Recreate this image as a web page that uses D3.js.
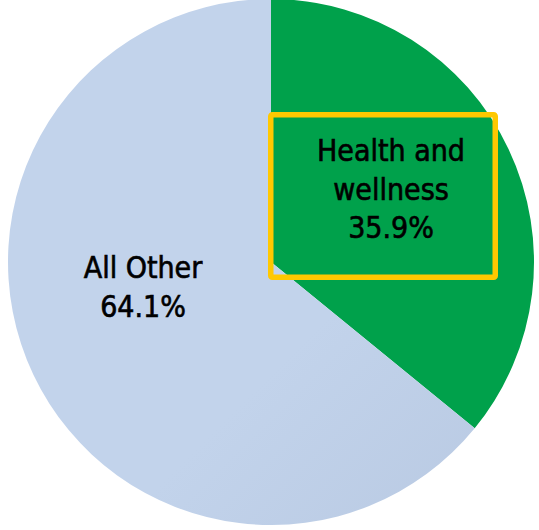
<!DOCTYPE html>
<html>
<head>
<meta charset="utf-8">
<script src="https://cdn.jsdelivr.net/npm/d3@7"></script>
<style>
  html, body { margin: 0; padding: 0; background: #fff; }
  svg { display: block; }
</style>
</head>
<body>
<svg id="chart" width="539" height="530"></svg>
<script>
// Share of total, by category
const categories = ["Health and wellness", "All Other"];
const values = [35.9, 64.1];
const labelLines = [["Health and", "wellness", "35.9%"], ["All Other", "64.1%"]];

const width = 539, height = 530;
const cx = 271, cy = 262, radius = 263;

const svg = d3.select("#chart");

const defs = svg.append("defs");
const grad = defs.append("linearGradient")
  .attr("id", "otherFill")
  .attr("gradientUnits", "userSpaceOnUse")
  .attr("x1", cx - radius * 0.8).attr("y1", cy - radius * 0.8)
  .attr("x2", cx + radius * 0.8).attr("y2", cy + radius * 0.8);
grad.append("stop").attr("offset", "0%").attr("stop-color", "#c2d3eb");
grad.append("stop").attr("offset", "100%").attr("stop-color", "#adbdd7");

const color = d3.scaleOrdinal()
  .domain(categories)
  .range(["#00a14b", "url(#otherFill)"]);

const pie = d3.pie().sort(null).value(d => d.value);
const arc = d3.arc().innerRadius(0).outerRadius(radius);

const data = categories.map((c, i) => ({ name: c, value: values[i], lines: labelLines[i] }));
const arcs = pie(data);

const g = svg.append("g").attr("transform", `translate(${cx},${cy})`);

g.selectAll("path.slice")
  .data(arcs)
  .join("path")
  .attr("class", "slice")
  .attr("d", arc)
  .attr("fill", d => color(d.data.name));

// Label anchor points, expressed relative to the pie
const labelPos = [
  { x: cx + 120, y: cy - 101 },
  { x: cx - 128, y: cy + 16 }
];
const lineHeight = 38.5;

const labels = svg.selectAll("text.label")
  .data(arcs)
  .join("text")
  .attr("class", "label")
  .attr("text-anchor", "middle")
  .attr("font-family", "'DejaVu Sans Condensed', 'DejaVu Sans', sans-serif")
  .attr("font-size", 30)
  .attr("fill", "#000")
  .attr("stroke", "#000")
  .attr("stroke-width", 0.6);

labels.each(function(d, i) {
  const t = d3.select(this);
  d.data.lines.forEach((ln, j) => {
    t.append("tspan")
      .attr("x", labelPos[i].x)
      .attr("y", labelPos[i].y + j * lineHeight)
      .text(ln);
  });
});

// Highlight box around the health and wellness label
svg.append("rect")
  .attr("x", 270.75).attr("y", 114.75)
  .attr("width", 224.5).attr("height", 162.5)
  .attr("rx", 1.5)
  .attr("fill", "none")
  .attr("stroke", "#ffc800")
  .attr("stroke-width", 5.5);
</script>
</body>
</html>
